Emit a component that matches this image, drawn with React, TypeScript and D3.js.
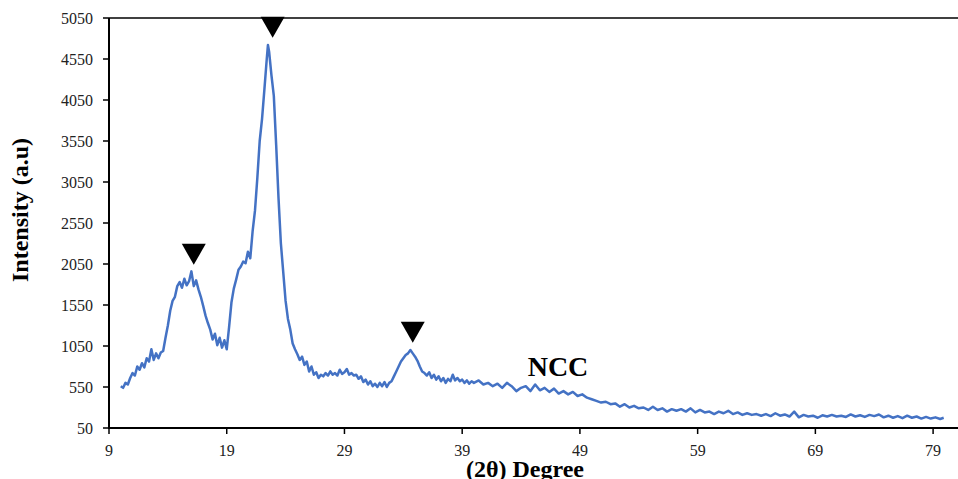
import React from 'react';
import * as d3 from 'd3';

// XRD pattern of NCC
const twoTheta = [
  10.0, 10.2, 10.4, 10.6, 10.8, 11.0, 11.2, 11.4, 11.6, 11.8, 12.0, 12.2, 12.4, 12.6, 12.8, 13.0, 13.2, 13.4, 13.6, 13.8,
  14.0, 14.2, 14.4, 14.6, 14.8, 15.0, 15.2, 15.4, 15.6, 15.8, 16.0, 16.2, 16.4, 16.6, 16.8, 17.0, 17.2, 17.4, 17.6, 17.8,
  18.0, 18.2, 18.4, 18.6, 18.8, 19.0, 19.2, 19.4, 19.6, 19.8, 20.0, 20.2, 20.4, 20.6, 20.8, 21.0, 21.2, 21.4, 21.6, 21.8,
  22.0, 22.2, 22.4, 22.5, 22.6, 22.8, 23.0, 23.2, 23.4, 23.6, 23.8, 24.0, 24.2, 24.4, 24.6, 24.8, 25.0, 25.2, 25.4, 25.6,
  25.8, 26.0, 26.2, 26.4, 26.6, 26.8, 27.0, 27.2, 27.4, 27.6, 27.8, 28.0, 28.2, 28.4, 28.6, 28.8, 29.0, 29.2, 29.4, 29.6,
  29.8, 30.0, 30.2, 30.4, 30.6, 30.8, 31.0, 31.2, 31.4, 31.6, 31.8, 32.0, 32.2, 32.4, 32.6, 32.8, 33.0, 33.2, 33.4, 33.6,
  33.8, 34.0, 34.2, 34.4, 34.6, 34.8, 35.0, 35.2, 35.4, 35.6, 35.8, 36.0, 36.2, 36.4, 36.6, 36.8, 37.0, 37.2, 37.4, 37.6,
  37.8, 38.0, 38.2, 38.4, 38.6, 38.8, 39.0, 39.2, 39.4, 39.6, 39.8, 40.0, 40.4, 40.8, 41.2, 41.6, 42.0, 42.4, 42.8, 43.2,
  43.6, 44.0, 44.4, 44.8, 45.2, 45.6, 46.0, 46.4, 46.8, 47.2, 47.6, 48.0, 48.4, 48.8, 49.2, 49.6, 50.0, 50.4, 50.8, 51.2,
  51.6, 52.0, 52.4, 52.8, 53.2, 53.6, 54.0, 54.4, 54.8, 55.2, 55.6, 56.0, 56.4, 56.8, 57.2, 57.6, 58.0, 58.4, 58.8, 59.2,
  59.6, 60.0, 60.4, 60.8, 61.2, 61.6, 62.0, 62.4, 62.8, 63.2, 63.6, 64.0, 64.4, 64.8, 65.2, 65.6, 66.0, 66.4, 66.8, 67.2,
  67.6, 68.0, 68.4, 68.8, 69.2, 69.6, 70.0, 70.4, 70.8, 71.2, 71.6, 72.0, 72.4, 72.8, 73.2, 73.6, 74.0, 74.4, 74.8, 75.2,
  75.6, 76.0, 76.4, 76.8, 77.2, 77.6, 78.0, 78.4, 78.8, 79.2, 79.6, 79.9,
];
const intensity = [
  560, 540, 600, 580, 660, 720, 690, 800, 760, 840, 790, 900, 860, 1010, 880, 960, 900, 970, 990, 1150,
  1300, 1480, 1600, 1650, 1780, 1830, 1760, 1870, 1790, 1840, 1960, 1780, 1850, 1740, 1650, 1540, 1420, 1330, 1250, 1130,
  1200, 1060, 1150, 1030, 1120, 1010, 1280, 1580, 1750, 1860, 1980, 2020, 2080, 2060, 2200, 2120, 2450, 2700, 3100, 3550,
  3820, 4180, 4550, 4720, 4640, 4350, 4100, 3500, 2850, 2300, 1950, 1600, 1380, 1250, 1080, 1010, 950, 880, 920, 820,
  860, 740, 800, 700, 730, 660, 700, 680, 720, 690, 740, 700, 720, 690, 760, 710, 730, 770, 700, 720,
  690, 700, 650, 680, 610, 640, 580, 620, 560, 590, 550, 600, 560, 610, 550, 600, 620, 680, 740, 800,
  860, 900, 940, 960, 1000, 960, 920, 870, 800, 740, 720, 690, 730, 660, 700, 640, 680, 620, 660, 600,
  650, 620, 700, 630, 660, 620, 640, 600, 630, 590, 620, 600, 630, 580, 600, 560, 590, 540, 600, 560,
  500, 540, 560, 500, 580, 510, 540, 490, 530, 470, 500, 460, 490, 440, 460, 420, 400, 380, 360, 370,
  340, 350, 310, 340, 300, 320, 290, 300, 270, 310, 270, 290, 250, 280, 260, 280, 250, 290, 240, 270,
  240, 250, 220, 250, 230, 260, 220, 240, 210, 230, 210, 220, 200, 220, 195, 230, 200, 215, 190, 250,
  180, 210, 190, 200, 175, 205, 190, 210, 190, 200, 185, 215, 190, 205, 185, 210, 195, 215, 180, 200,
  175, 195, 170, 200, 175, 190, 165, 185, 165, 180, 160, 175,
];

const xTicks = [9, 19, 29, 39, 49, 59, 69, 79];
const yTicks = [50, 550, 1050, 1550, 2050, 2550, 3050, 3550, 4050, 4550, 5050];

// peak markers: 2θ position and intensity at the tip of the triangle
const peakX = [16.2, 22.9, 34.8];
const peakTip = [2040, 4810, 1090];

const W = 958;
const H = 479;
const font = '"Liberation Serif", "Times New Roman", serif';

export default function App() {
  const x = d3.scaleLinear().domain([9, 81.2]).range([109, 959]);
  const y = d3.scaleLinear().domain([50, 5050]).range([428, 18]);

  const pts = twoTheta.map((t, i) => [t, intensity[i]] as [number, number]);
  const line = d3.line<[number, number]>().x(d => x(d[0])).y(d => y(d[1]));

  const tri = (cx: number, tipY: number) =>
    `M${cx - 12},${tipY - 21}L${cx + 12},${tipY - 21}L${cx},${tipY}Z`;

  return (
    <svg width={W} height={H} style={{ position: 'absolute', left: 0, top: 0, background: '#fff' }} fontFamily={font}>
      <path d={line(pts) ?? ''} fill="none" stroke="#4472C4" strokeWidth={2.5} strokeLinejoin="round" />

      {/* frame */}
      <line x1={109} x2={W} y1={18} y2={18} stroke="#000" strokeWidth={1.5} />
      <line x1={109} x2={109} y1={18} y2={428} stroke="#000" strokeWidth={2} />
      <line x1={108} x2={W} y1={428} y2={428} stroke="#000" strokeWidth={2} />

      {yTicks.map(v => (
        <g key={v}>
          <line x1={103} x2={109} y1={y(v)} y2={y(v)} stroke="#000" strokeWidth={1.5} />
          <text x={93} y={y(v)} dy="0.35em" textAnchor="end" fontSize={16} fill="#222">{v}</text>
        </g>
      ))}
      {xTicks.map(v => (
        <g key={v}>
          <line x1={x(v)} x2={x(v)} y1={428} y2={434} stroke="#000" strokeWidth={1.5} />
          <text x={x(v)} y={456} textAnchor="middle" fontSize={16} fill="#222">{v}</text>
        </g>
      ))}

      {peakX.map((p, i) => (
        <path key={p} d={tri(x(p), y(peakTip[i]))} fill="#000" />
      ))}

      <text x={558} y={376} textAnchor="middle" fontSize={28} fontWeight="bold">NCC</text>

      <text transform="translate(28,210) rotate(-90)" textAnchor="middle" fontSize={24} fontWeight="bold">
        Intensity (a.u)
      </text>
      <text x={525} y={477} textAnchor="middle" fontSize={24} fontWeight="bold">(2θ) Degree</text>
    </svg>
  );
}
